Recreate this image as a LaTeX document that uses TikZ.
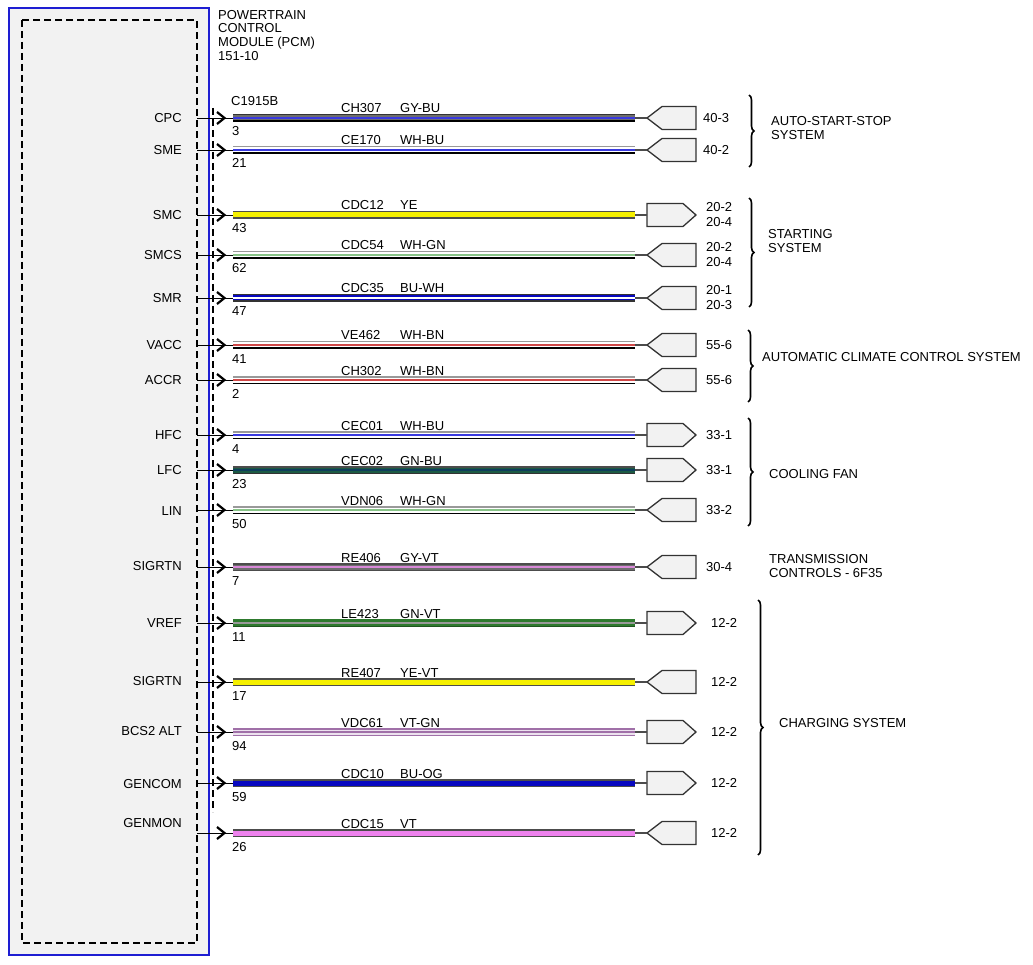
\documentclass[tikz,border=0pt]{standalone}
\usepackage{fontspec}
\setmainfont{Liberation Sans}
\usetikzlibrary{decorations.pathreplacing}

\definecolor{pcmgray}{HTML}{F2F2F2}
\definecolor{pcmblue}{HTML}{1E1ED2}
\definecolor{wgy}{HTML}{6E6E6E}
\definecolor{wbu}{HTML}{3A3AE0}
\definecolor{wbudk}{HTML}{0808C0}
\definecolor{wye}{HTML}{F5F000}
\definecolor{wgn}{HTML}{88C488}
\definecolor{wbn}{HTML}{D04848}
\definecolor{wgndk}{HTML}{1C5A44}
\definecolor{wteal}{HTML}{0E3E5C}
\definecolor{wvt}{HTML}{D888D8}
\definecolor{wgnvt}{HTML}{2E7A2E}
\definecolor{wvtgn}{HTML}{A070A8}
\definecolor{wpk}{HTML}{EE82EE}

\tikzset{
  txt/.style={inner sep=0pt, font=\fontsize{13}{15}\selectfont},
  sig/.style={txt, anchor=east},
  circ/.style={txt, anchor=base west},
  con/.style={draw=black!80, fill=pcmgray, line width=1.3},
  conlbl/.style={txt, anchor=west, align=left},
  stub/.style={draw=black!70, line width=1.2},
  brc/.style={line width=1.6, decorate, decoration={brace, amplitude=5pt}}
}

% y, name, signal, pin, circuit, colour code, y of signal text
\newcommand{\pinrow}[7]{
  \coordinate (#2-pin) at (197,#1);
  \coordinate (#2-w) at (233,#1);
  \coordinate (#2-e) at (635,#1);
  \node[sig] (#2-sig) at (182,#7) {#3};
  \node[circ] (#2-no) at (232,#1+18) {#4};
  \node[circ] (#2-ckt) at (341,#1-5) {#5};
  \node[circ] (#2-col) at (400,#1-5) {#6};
  \draw[black, line width=0.9] (#2-pin) -- (#2-w);
  \draw[line width=2.2] (217,#1-6) -- (224.5,#1) -- (217,#1+6);
}
% name, top edge, bottom edge, base, stripe
\newcommand{\wire}[5]{
  \draw[line width=6.4, #4] (#1-w) -- (#1-e);
  \draw[line width=1.4, #2] ([yshift=3.2pt]#1-w) -- ([yshift=3.2pt]#1-e);
  \draw[line width=1.4, #3] ([yshift=-3.2pt]#1-w) -- ([yshift=-3.2pt]#1-e);
  \draw[line width=1.6, #5] (#1-w) -- (#1-e);
}
% name, y, label, x of label
\newcommand{\conL}[4]{
  \draw[con] (647,#2) -- (662,#2-11.5) -- (696,#2-11.5) -- (696,#2+11.5) -- (662,#2+11.5) -- cycle;
  \coordinate (#1-c) at (647,#2);
  \node[conlbl] (#1-lbl) at (#4,#2) {#3};
  \draw[stub] (#1-e) -- (#1-c);
}
\newcommand{\conR}[4]{
  \draw[con] (647,#2-11.5) -- (683,#2-11.5) -- (696,#2) -- (683,#2+11.5) -- (647,#2+11.5) -- cycle;
  \coordinate (#1-c) at (647,#2);
  \node[conlbl] (#1-lbl) at (#4,#2) {#3};
  \draw[stub] (#1-e) -- (#1-c);
}

\begin{document}
\begin{tikzpicture}[x=1pt,y=-1pt]
\useasboundingbox[fill=white] (0,0) rectangle (1033,965);

% module
\draw[pcmblue, fill=pcmgray, line width=1.3] (9,8) rectangle (209,955);
\draw[dash pattern=on 7pt off 4pt, line width=1.4] (22,20) rectangle (197,943);
\draw[dash pattern=on 7pt off 4pt, line width=1.4] (213,108) -- (213,812);
\node[txt, anchor=north west, align=left, font=\fontsize{13}{13.6}\selectfont] (pcm) at (218,10) {POWERTRAIN\\CONTROL\\MODULE (PCM)\\151-10};
\node[circ] (c1915b) at (231,106) {C1915B};

\pinrow{118}{cpc}{CPC}{3}{CH307}{GY-BU}{118}
\pinrow{150}{sme}{SME}{21}{CE170}{WH-BU}{150}
\pinrow{215}{smc}{SMC}{43}{CDC12}{YE}{215}
\pinrow{255}{smcs}{SMCS}{62}{CDC54}{WH-GN}{255}
\pinrow{298}{smr}{SMR}{47}{CDC35}{BU-WH}{298}
\pinrow{345}{vacc}{VACC}{41}{VE462}{WH-BN}{345}
\pinrow{380}{accr}{ACCR}{2}{CH302}{WH-BN}{380}
\pinrow{435}{hfc}{HFC}{4}{CEC01}{WH-BU}{435}
\pinrow{470}{lfc}{LFC}{23}{CEC02}{GN-BU}{470}
\pinrow{510}{lin}{LIN}{50}{VDN06}{WH-GN}{511}
\pinrow{567}{sigrtna}{SIGRTN}{7}{RE406}{GY-VT}{566}
\pinrow{623}{vref}{VREF}{11}{LE423}{GN-VT}{623}
\pinrow{682}{sigrtnb}{SIGRTN}{17}{RE407}{YE-VT}{681}
\pinrow{732}{bcs}{BCS2 ALT}{94}{VDC61}{VT-GN}{731}
\pinrow{783}{gencom}{GENCOM}{59}{CDC10}{BU-OG}{784}
\pinrow{833}{genmon}{GENMON}{26}{CDC15}{VT}{823}

\wire{cpc}{black!80}{black}{wgy}{wbu}
\wire{sme}{black!40}{black}{white}{wbu}
\wire{smc}{black!70}{black!70}{wye}{wye}
\wire{smcs}{black!40}{black}{white}{wgn}
\wire{smr}{black!80}{black!80}{wbudk}{white}
\wire{vacc}{black!40}{black}{white}{wbn}
\wire{accr}{black!40}{black}{white}{wbn}
\wire{hfc}{black!40}{black}{white}{wbu}
\wire{lfc}{black!70}{black!80}{wgndk}{wteal}
\wire{lin}{black!40}{black}{white}{wgn}
\wire{sigrtna}{black!70}{black!70}{wgy}{wvt}
\wire{vref}{wgnvt}{wgnvt!70!black}{wgnvt}{black!40}
\wire{sigrtnb}{black!70}{black!70}{wye}{wye}
\wire{bcs}{wvtgn}{wvtgn}{white!80!wvtgn}{wvtgn}
\wire{gencom}{black!70}{black!70}{wbudk}{wbudk}
\wire{genmon}{black!70}{black!70}{wpk}{wpk}

\conL{cpc}{118}{40-3}{703}
\conL{sme}{150}{40-2}{703}
\conR{smc}{215}{20-2\\20-4}{706}
\conL{smcs}{255}{20-2\\20-4}{706}
\conL{smr}{298}{20-1\\20-3}{706}
\conL{vacc}{345}{55-6}{706}
\conL{accr}{380}{55-6}{706}
\conR{hfc}{435}{33-1}{706}
\conR{lfc}{470}{33-1}{706}
\conL{lin}{510}{33-2}{706}
\conL{sigrtna}{567}{30-4}{706}
\conR{vref}{623}{12-2}{711}
\conL{sigrtnb}{682}{12-2}{711}
\conR{bcs}{732}{12-2}{711}
\conR{gencom}{783}{12-2}{711}
\conL{genmon}{833}{12-2}{711}

% systems
\draw[brc] (749,95) -- (749,167);
\draw[brc] (749,198) -- (749,307);
\draw[brc] (748,330) -- (748,402);
\draw[brc] (748,418) -- (748,526);
\draw[brc] (758,600) -- (758,855);
\node[txt, anchor=north west, align=left, font=\fontsize{13}{14}\selectfont] (ass) at (771,116) {AUTO-START-STOP\\SYSTEM};
\node[txt, anchor=north west, align=left, font=\fontsize{13}{14}\selectfont] (start) at (768,229) {STARTING\\SYSTEM};
\node[circ] (acc) at (762,362) {AUTOMATIC CLIMATE CONTROL SYSTEM};
\node[circ] (fan) at (769,478) {COOLING FAN};
\node[txt, anchor=north west, align=left, font=\fontsize{13}{14}\selectfont] (trans) at (769,554) {TRANSMISSION\\CONTROLS - 6F35};
\node[circ] (chg) at (779,727) {CHARGING SYSTEM};
\end{tikzpicture}
\end{document}
